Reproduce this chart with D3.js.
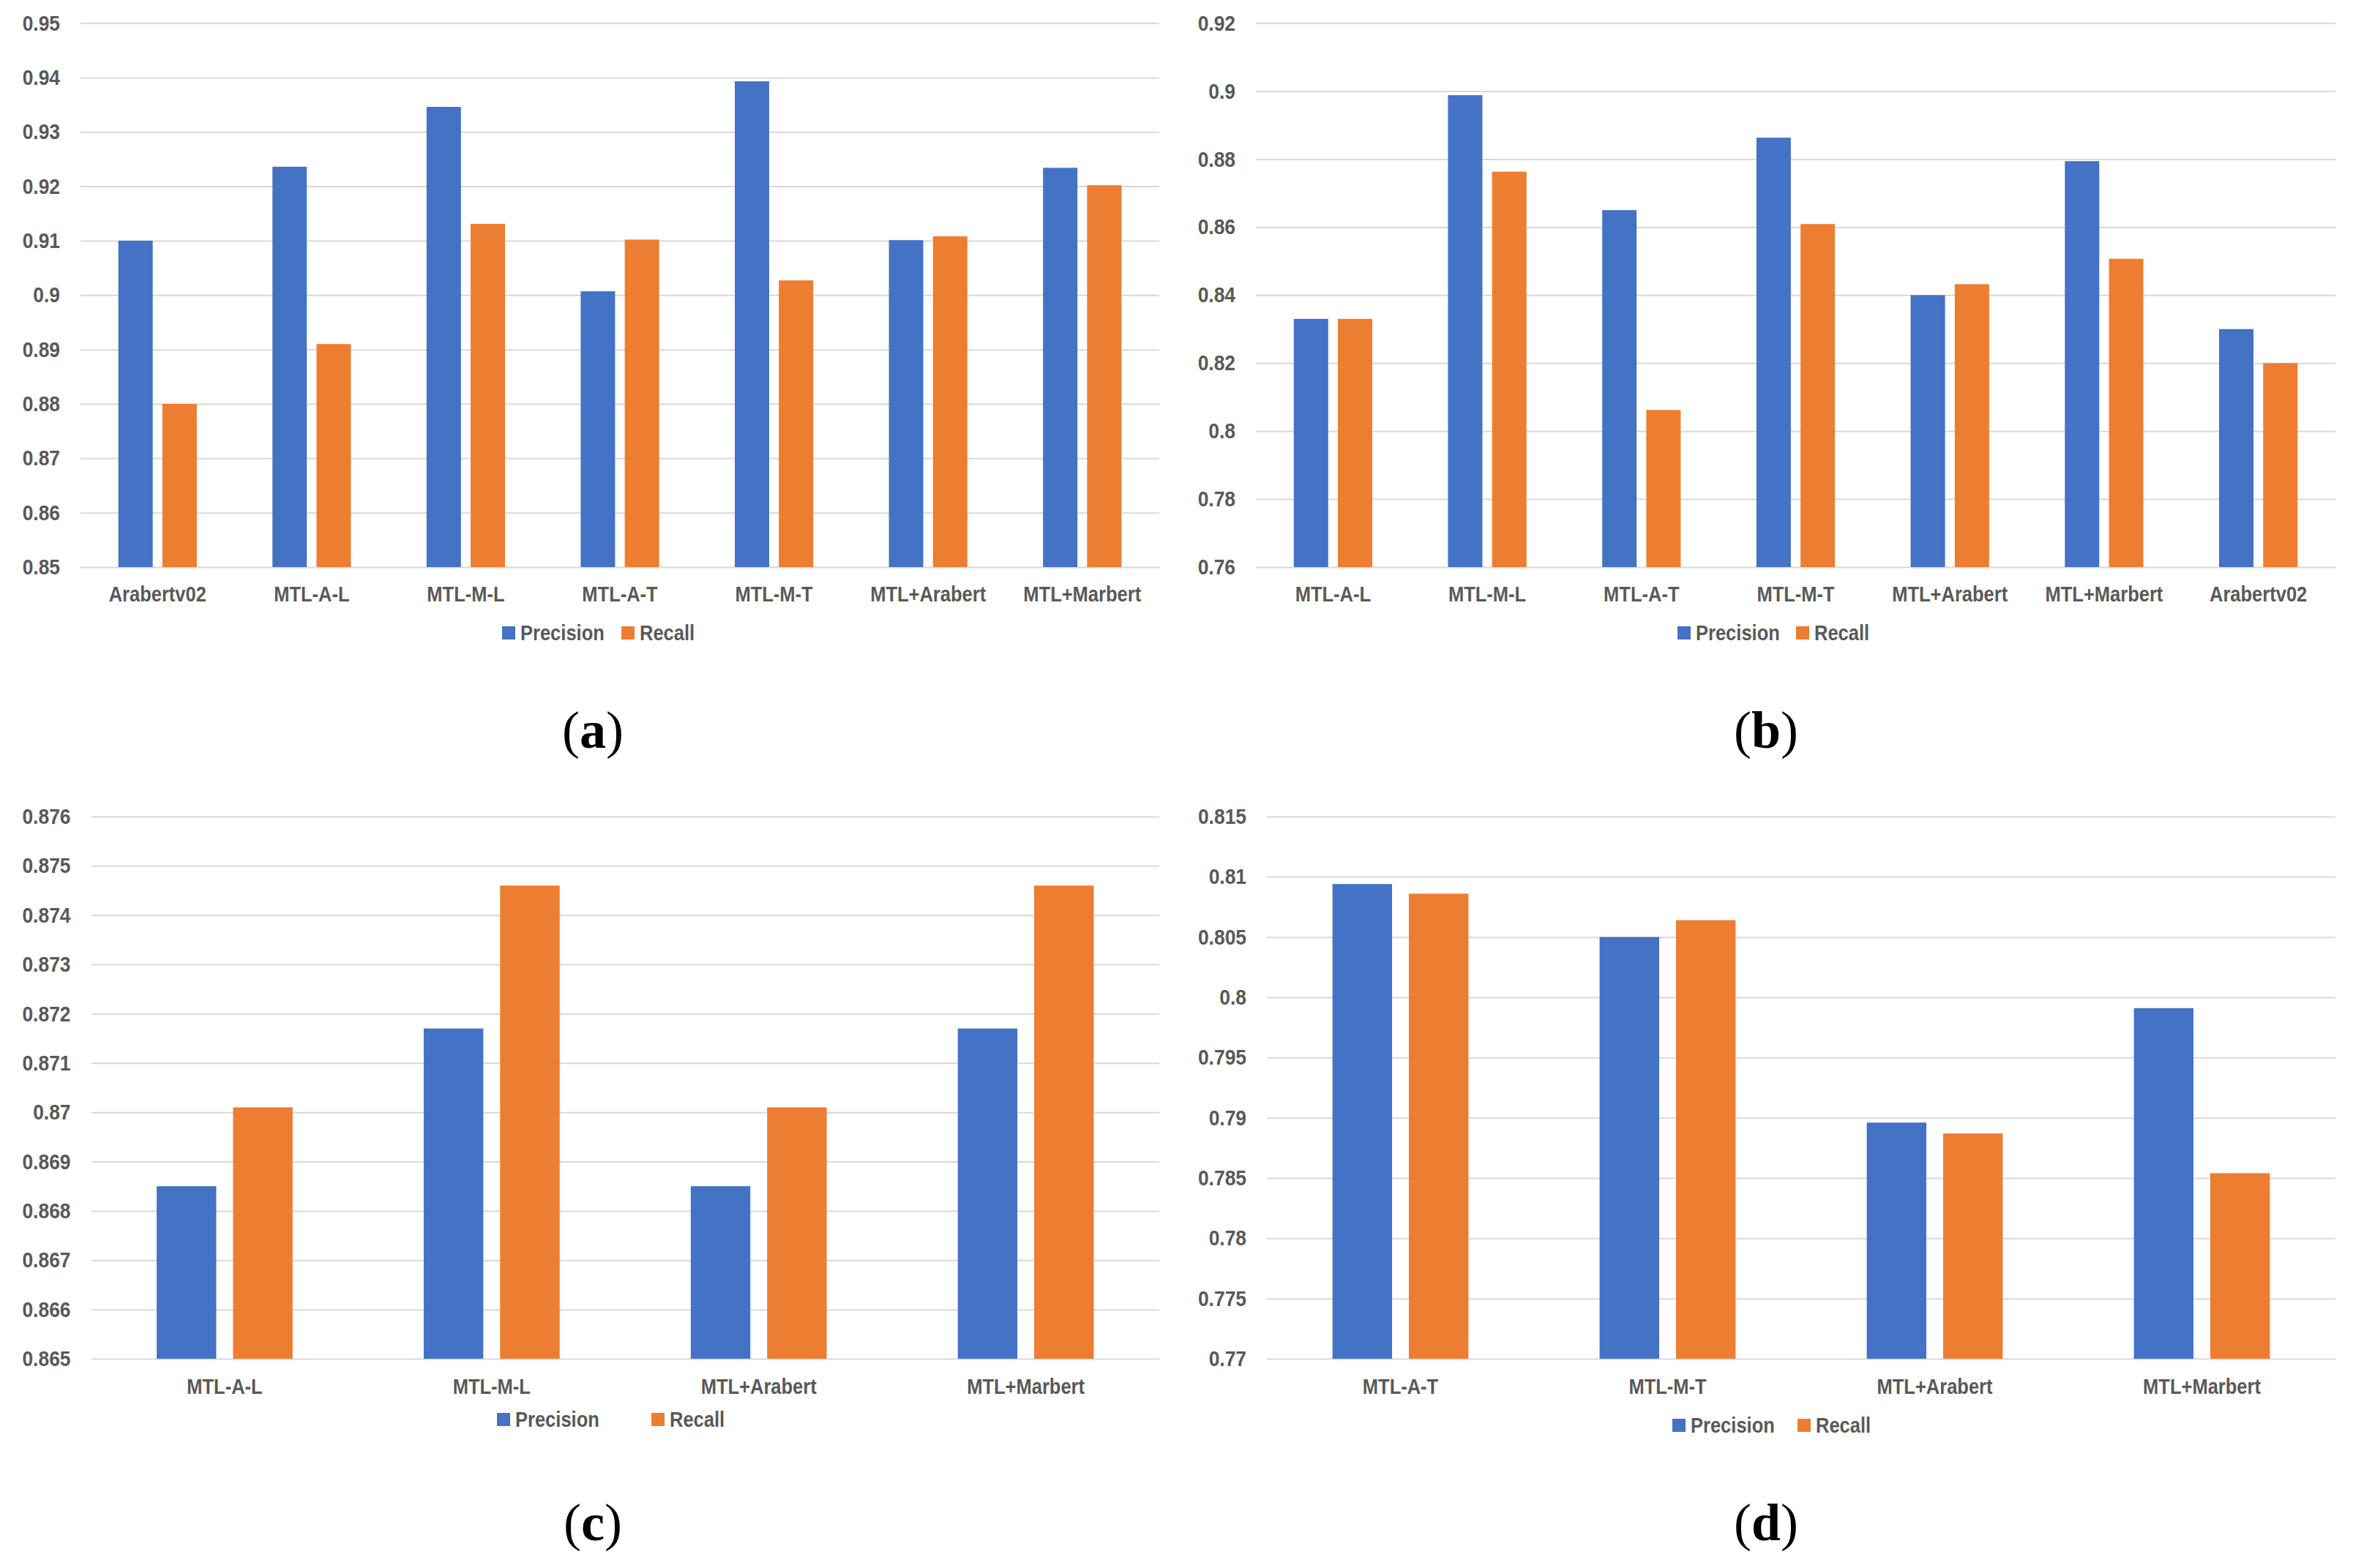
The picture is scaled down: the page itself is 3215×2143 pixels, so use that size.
<!DOCTYPE html>
<html>
<head>
<meta charset="utf-8">
<script src="https://cdn.jsdelivr.net/npm/d3@7"></script>
<style>
  html, body { margin: 0; padding: 0; background: #fff; }
  text { font-family: "Liberation Sans", Arial, sans-serif; }
</style>
</head>
<body>
<div id="chart"></div>
<script>
'use strict';

var width = 3215,
    height = 2143;

var series = ['Precision', 'Recall'];
var colors = ['#4472C4', '#ED7D31'];

// (a)
var catsA = ['Arabertv02', 'MTL-A-L', 'MTL-M-L', 'MTL-A-T', 'MTL-M-T', 'MTL+Arabert', 'MTL+Marbert'];
var precA = [0.910, 0.9236, 0.9346, 0.9007, 0.9393, 0.9101, 0.9234];
var recA  = [0.880, 0.891, 0.9131, 0.9102, 0.9027, 0.9108, 0.9202];
var ticksA = [0.85, 0.86, 0.87, 0.88, 0.89, 0.90, 0.91, 0.92, 0.93, 0.94, 0.95];

// (b)
var catsB = ['MTL-A-L', 'MTL-M-L', 'MTL-A-T', 'MTL-M-T', 'MTL+Arabert', 'MTL+Marbert', 'Arabertv02'];
var precB = [0.833, 0.8988, 0.865, 0.8863, 0.840, 0.8794, 0.830];
var recB  = [0.833, 0.8763, 0.8062, 0.8609, 0.8432, 0.8507, 0.820];
var ticksB = [0.76, 0.78, 0.80, 0.82, 0.84, 0.86, 0.88, 0.90, 0.92];

// (c)
var catsC = ['MTL-A-L', 'MTL-M-L', 'MTL+Arabert', 'MTL+Marbert'];
var precC = [0.8685, 0.8717, 0.8685, 0.8717];
var recC  = [0.8701, 0.8746, 0.8701, 0.8746];
var ticksC = [0.865, 0.866, 0.867, 0.868, 0.869, 0.870, 0.871, 0.872, 0.873, 0.874, 0.875, 0.876];

// (d)
var catsD = ['MTL-A-T', 'MTL-M-T', 'MTL+Arabert', 'MTL+Marbert'];
var precD = [0.8094, 0.805, 0.7896, 0.7991];
var recD  = [0.8086, 0.8064, 0.7887, 0.7854];
var ticksD = [0.77, 0.775, 0.78, 0.785, 0.79, 0.795, 0.80, 0.805, 0.81, 0.815];

// horizontal squeeze so the sans looks closer to the narrow office font
var squeeze = 0.88;

var svg = d3.select('#chart').append('svg')
    .attr('width', width)
    .attr('height', height);

svg.append('rect').attr('width', width).attr('height', height).attr('fill', '#fff');

var panels = [
    {cats: catsA, prec: precA, rec: recA, ticks: ticksA, caption: 'a',
     left: 110, right: 1584, top: 31.6, bottom: 775, catY: 812, legY: 865, legX: [686, 849], capX: 810, capY: 1022},
    {cats: catsB, prec: precB, rec: recB, ticks: ticksB, caption: 'b',
     left: 1716, right: 3191, top: 31.6, bottom: 775, catY: 812, legY: 865, legX: [2292, 2454], capX: 2413, capY: 1022},
    {cats: catsC, prec: precC, rec: recC, ticks: ticksC, caption: 'c',
     left: 124.5, right: 1584, top: 1116, bottom: 1857, catY: 1895, legY: 1940, legX: [679, 890], capX: 810, capY: 2105},
    {cats: catsD, prec: precD, rec: recD, ticks: ticksD, caption: 'd',
     left: 1731, right: 3191, top: 1116, bottom: 1857, catY: 1895, legY: 1948, legX: [2285, 2456], capX: 2413, capY: 2105}
];

function label(sel, x, y, txt, anchor) {
    return sel.append('text')
        .attr('transform', 'translate(' + x + ',' + y + ') scale(' + squeeze + ',1)')
        .attr('dy', '0.35em')
        .attr('text-anchor', anchor || 'start')
        .attr('fill', '#595959')
        .attr('font-size', 29)
        .attr('font-weight', 'bold')
        .text(txt);
}

function drawPanel(p) {
    var g = svg.append('g');

    var y = d3.scaleLinear()
        .domain([p.ticks[0], p.ticks[p.ticks.length - 1]])
        .range([p.bottom, p.top]);

    var x = d3.scaleBand()
        .domain(p.cats)
        .range([p.left, p.right]);

    var bw = x.bandwidth();
    var xs = d3.scaleBand()
        .domain(series)
        .range([bw * (0.5 - 0.2545), bw * (0.5 + 0.2545)])
        .paddingInner(0.22);

    // gridlines + y labels
    var yAxis = d3.axisLeft(y)
        .tickValues(p.ticks)
        .tickSize(-(p.right - p.left))
        .tickPadding(28)
        .tickFormat(function(d) { return String(+d.toFixed(3)); });

    var ax = g.append('g')
        .attr('transform', 'translate(' + p.left + ',0)')
        .call(yAxis);
    ax.select('.domain').remove();
    ax.selectAll('.tick line')
        .attr('stroke', '#d9d9d9')
        .attr('stroke-width', 2);
    ax.selectAll('.tick text')
        .attr('x', -28 / squeeze)
        .attr('transform', 'scale(' + squeeze + ',1)')
        .attr('fill', '#595959')
        .attr('font-size', 30)
        .attr('font-weight', 'bold')
        .style('font-family', '"Liberation Sans", Arial, sans-serif');

    // bars
    var rows = p.cats.map(function(c, i) {
        return {cat: c, vals: [p.prec[i], p.rec[i]]};
    });

    var groups = g.selectAll('.grp')
        .data(rows)
        .enter()
        .append('g')
        .attr('transform', function(d) { return 'translate(' + x(d.cat) + ',0)'; });

    groups.selectAll('rect')
        .data(function(d) { return d.vals.map(function(v, k) { return {s: series[k], v: v, k: k}; }); })
        .enter()
        .append('rect')
        .attr('x', function(d) { return xs(d.s); })
        .attr('width', xs.bandwidth())
        .attr('y', function(d) { return y(d.v); })
        .attr('height', function(d) { return p.bottom - y(d.v); })
        .attr('fill', function(d) { return colors[d.k]; });

    // category labels
    p.cats.forEach(function(c) {
        label(g, x(c) + bw / 2, p.catY, c, 'middle');
    });

    // legend
    series.forEach(function(s, k) {
        g.append('rect')
            .attr('x', p.legX[k])
            .attr('y', p.legY - 9)
            .attr('width', 18)
            .attr('height', 18)
            .attr('fill', colors[k]);
        label(g, p.legX[k] + 25, p.legY, s);
    });

    // caption
    var cap = g.append('text')
        .attr('x', p.capX)
        .attr('y', p.capY)
        .attr('text-anchor', 'middle')
        .attr('font-size', 72)
        .style('font-family', '"Liberation Serif", "DejaVu Serif", serif')
        .attr('fill', '#000');
    cap.append('tspan').text('(');
    cap.append('tspan').attr('font-weight', 'bold').text(p.caption);
    cap.append('tspan').text(')');
}

panels.forEach(drawPanel);
</script>
</body>
</html>
